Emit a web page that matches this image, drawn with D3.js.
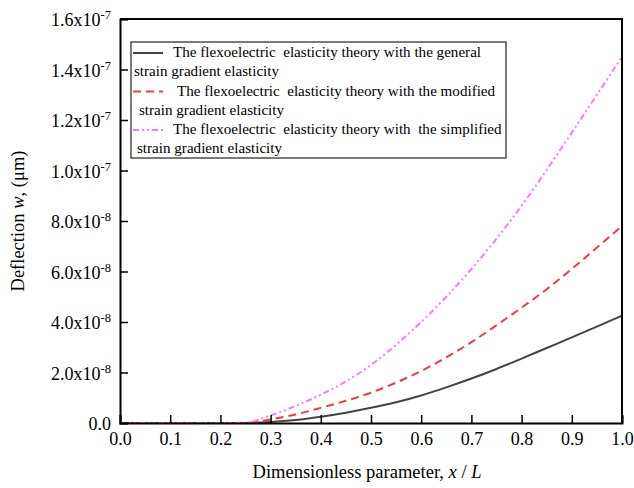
<!DOCTYPE html>
<html>
<head>
<meta charset="utf-8">
<script src="https://cdnjs.cloudflare.com/ajax/libs/d3/7.8.5/d3.min.js"></script>
<style>
  body { margin: 0; background: #fff; }
  svg text { font-family: "Liberation Serif", "DejaVu Serif", "Times New Roman", serif !important; fill: #000; }
</style>
</head>
<body>
<svg id="mainSvg"></svg>
<script>
var WIDTH = 634;
var HEIGHT = 488;
var MARGIN = { left: 120, right: 12, top: 19, bottom: 65 };

// x / L sample points
var X_VALUES = [0, 0.05, 0.1, 0.15, 0.2, 0.25, 0.3, 0.35, 0.4, 0.45, 0.5,
  0.55, 0.6, 0.65, 0.7, 0.75, 0.8, 0.85, 0.9, 0.95, 1.0];
// deflection, in units of 1e-8 um
var GENERAL = [0, 0, 0, 0, 0, 0, 0.04, 0.12, 0.25, 0.41, 0.6,
  0.82, 1.09, 1.41, 1.76, 2.14, 2.55, 2.97, 3.39, 3.82, 4.25];
var MODIFIED = [0, 0, 0, 0, 0, 0, 0.14, 0.34, 0.6, 0.88, 1.2,
  1.6, 2.06, 2.6, 3.2, 3.87, 4.57, 5.3, 6.1, 6.95, 7.8];
var SIMPLIFIED = [0, 0, 0, 0, 0, 0.02, 0.3, 0.68, 1.12, 1.65, 2.3,
  3.1, 4.0, 5.0, 6.1, 7.3, 8.6, 10.02, 11.5, 13.0, 14.5];

var X_TICKS = [0, 0.1, 0.2, 0.3, 0.4, 0.5, 0.6, 0.7, 0.8, 0.9, 1.0];
var Y_TICKS = [0, 2, 4, 6, 8, 10, 12, 14, 16];
var Y_TICK_LABELS = [
  { m: "0.0", e: null },
  { m: "2.0x10", e: "-8" },
  { m: "4.0x10", e: "-8" },
  { m: "6.0x10", e: "-8" },
  { m: "8.0x10", e: "-8" },
  { m: "1.0x10", e: "-7" },
  { m: "1.2x10", e: "-7" },
  { m: "1.4x10", e: "-7" },
  { m: "1.6x10", e: "-7" }
];

var SERIES = [
  { name: ["The flexoelectric  elasticity theory with the general", "strain gradient elasticity"],
    values: GENERAL, color: "#444444", dash: null, width: 2, textX: [173, 134] },
  { name: ["The flexoelectric  elasticity theory with the modified", "strain gradient elasticity"],
    values: MODIFIED, color: "#f23b3b", dash: "8,5", width: 2, textX: [177, 139] },
  { name: ["The flexoelectric  elasticity theory with  the simplified", "strain gradient elasticity"],
    values: SIMPLIFIED, color: "#ff77ff", dash: "6,3,2,3,2,3", width: 2, textX: [173, 137] }
];

function render() {
  var svg = d3.select("#mainSvg")
    .attr("width", WIDTH)
    .attr("height", HEIGHT);

  var x = d3.scaleLinear().domain([0, 1]).range([MARGIN.left, WIDTH - MARGIN.right]);
  var y = d3.scaleLinear().domain([0, 16]).range([HEIGHT - MARGIN.bottom, MARGIN.top]);

  // curves
  var line = d3.line()
    .x(function (d, i) { return x(X_VALUES[i]); })
    .y(function (d) { return y(d); })
    .curve(d3.curveMonotoneX);

  svg.selectAll(".curve")
    .data(SERIES)
    .enter()
    .append("path")
    .attr("class", "curve")
    .attr("d", function (d) { return line(d.values); })
    .attr("fill", "none")
    .attr("stroke", function (d) { return d.color; })
    .attr("stroke-width", function (d) { return d.width; })
    .attr("stroke-dasharray", function (d) { return d.dash; });

  // x axis, ticks pointing inward
  var minorX = d3.range(0, 21).map(function (i) { return i * 0.05; });
  var xAxis = svg.append("g")
    .attr("transform", "translate(0," + y(0) + ")");
  xAxis.call(d3.axisBottom(x).tickValues(minorX).tickSize(-4).tickFormat(""));
  xAxis.call(d3.axisBottom(x).tickValues(X_TICKS).tickSize(-8).tickFormat(d3.format(".1f")));
  xAxis.attr("font-family", null).attr("font-size", null);
  xAxis.selectAll("text")
    .attr("y", 9)
    .style("font-size", "18px");
  xAxis.selectAll(".domain").attr("stroke-width", 2);
  xAxis.selectAll(".tick line").attr("stroke-width", 1.5);

  // y axis, ticks pointing inward
  var minorY = d3.range(0, 17);
  var yAxis = svg.append("g")
    .attr("transform", "translate(" + x(0) + ",0)");
  yAxis.call(d3.axisLeft(y).tickValues(minorY).tickSize(-4).tickFormat(""));
  yAxis.call(d3.axisLeft(y).tickValues(Y_TICKS).tickSize(-8).tickFormat(""));
  yAxis.selectAll(".domain").attr("stroke-width", 2);
  yAxis.selectAll(".tick line").attr("stroke-width", 1.5);

  // y tick labels with superscripts
  var yLab = svg.selectAll(".ylab")
    .data(Y_TICKS)
    .enter()
    .append("text")
    .attr("class", "ylab")
    .attr("x", x(0) - 9)
    .attr("y", function (d) { return y(d) + 7; })
    .attr("text-anchor", "end")
    .style("font-size", "18px");
  yLab.each(function (d, i) {
    var t = d3.select(this);
    var lab = Y_TICK_LABELS[i];
    t.append("tspan").text(lab.m);
    if (lab.e) {
      t.append("tspan").attr("dy", -7).style("font-size", "12.5px").text(lab.e);
    }
  });

  // top and right frame
  svg.append("path")
    .attr("d", "M" + x(0) + "," + y(16) + "H" + x(1) + "V" + y(0))
    .attr("fill", "none")
    .attr("stroke", "#000")
    .attr("stroke-width", 2);

  // axis titles
  var xt = svg.append("text")
    .attr("x", (x(0) + x(1)) / 2 - 4)
    .attr("y", 478)
    .attr("text-anchor", "middle")
    .style("font-size", "18.5px");
  xt.append("tspan").text("Dimensionless parameter, ");
  xt.append("tspan").style("font-style", "italic").text("x");
  xt.append("tspan").text(" / ");
  xt.append("tspan").style("font-style", "italic").text("L");

  var yt = svg.append("text")
    .attr("transform", "translate(24," + ((y(0) + y(16)) / 2) + ") rotate(-90)")
    .attr("text-anchor", "middle")
    .style("font-size", "18.5px");
  yt.append("tspan").text("Deflection ");
  yt.append("tspan").style("font-style", "italic").text("w");
  yt.append("tspan").text(", (\u03bcm)");

  // legend
  var lg = svg.append("g");
  lg.append("rect")
    .attr("x", 131).attr("y", 42)
    .attr("width", 375).attr("height", 116)
    .attr("fill", "#fff")
    .attr("stroke", "#222")
    .attr("stroke-width", 1.2);

  SERIES.forEach(function (s, i) {
    var top = 42 + i * 38.5;
    lg.append("line")
      .attr("x1", 133).attr("x2", 163)
      .attr("y1", top + 11).attr("y2", top + 11)
      .attr("stroke", s.color)
      .attr("stroke-width", s.width)
      .attr("stroke-dasharray", s.dash);
    lg.append("text")
      .attr("x", s.textX[0]).attr("y", top + 15)
      .style("font-size", "15.1px")
      .style("white-space", "pre")
      .text(s.name[0]);
    lg.append("text")
      .attr("x", s.textX[1]).attr("y", top + 34)
      .style("font-size", "15.1px")
      .text(s.name[1]);
  });
}

render();
</script>
</body>
</html>
